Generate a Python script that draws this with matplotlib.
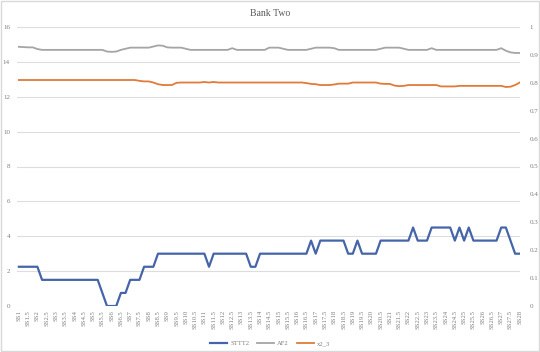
import numpy as np
import matplotlib.pyplot as plt
from matplotlib.patches import Rectangle

# Подписи оси X (каждая вторая категория)
tick_labels = ["SS1", "SS1.5", "SS2", "SS2.5", "SS3", "SS3.5", "SS4", "SS4.5", "SS5", "SS5.5",
               "SS6", "SS6.5", "SS7", "SS7.5", "SS8", "SS8.5", "SS9", "SS9.5", "SS10", "SS10.5",
               "SS11", "SS11.5", "SS12", "SS12.5", "SS13", "SS13.5", "SS14", "SS14.5", "SS15", "SS15.5",
               "SS16", "SS16.5", "SS17", "SS17.5", "SS18", "SS18.5", "SS19", "SS19.5", "SS20", "SS20.5",
               "SS21", "SS21.5", "SS22", "SS22.5", "SS23", "SS23.5", "SS24", "SS24.5", "SS25", "SS25.5",
               "SS26", "SS26.5", "SS27", "SS27.5", "SS28"]

# STTT2 (левая ось)
sttt2 = [2.25, 2.25, 2.25, 2.25, 2.25, 1.5, 1.5, 1.5, 1.5, 1.5,
         1.5, 1.5, 1.5, 1.5, 1.5, 1.5, 1.5, 1.5, 0.75, 0,
         0, 0, 0.75, 0.75, 1.5, 1.5, 1.5, 2.25, 2.25, 2.25,
         3, 3, 3, 3, 3, 3, 3, 3, 3, 3,
         3, 2.25, 3, 3, 3, 3, 3, 3, 3, 3,
         2.25, 2.25, 3, 3, 3, 3, 3, 3, 3, 3,
         3, 3, 3, 3.75, 3, 3.75, 3.75, 3.75, 3.75, 3.75,
         3.75, 3, 3, 3.75, 3, 3, 3, 3, 3.75, 3.75,
         3.75, 3.75, 3.75, 3.75, 3.75, 4.5, 3.75, 3.75, 3.75, 4.5,
         4.5, 4.5, 4.5, 4.5, 3.75, 4.5, 3.75, 4.5, 3.75, 3.75,
         3.75, 3.75, 3.75, 3.75, 4.5, 4.5, 3.75, 3, 3]

# AF2 (правая ось)
af2 = [0.929, 0.928, 0.927, 0.927, 0.921, 0.918, 0.918, 0.918, 0.918, 0.918,
       0.918, 0.918, 0.918, 0.918, 0.918, 0.918, 0.918, 0.918, 0.918, 0.912,
       0.911, 0.912, 0.918, 0.922, 0.926, 0.926, 0.926, 0.926, 0.926, 0.930,
       0.934, 0.933, 0.927, 0.926, 0.926, 0.926, 0.922, 0.918, 0.918, 0.918,
       0.918, 0.918, 0.918, 0.918, 0.918, 0.918, 0.924, 0.918, 0.918, 0.918,
       0.918, 0.918, 0.918, 0.918, 0.926, 0.926, 0.926, 0.922, 0.918, 0.918,
       0.918, 0.918, 0.918, 0.922, 0.926, 0.926, 0.926, 0.926, 0.924, 0.918,
       0.918, 0.918, 0.918, 0.918, 0.918, 0.918, 0.918, 0.918, 0.922, 0.926,
       0.926, 0.926, 0.926, 0.922, 0.918, 0.918, 0.918, 0.918, 0.918, 0.924,
       0.918, 0.918, 0.918, 0.918, 0.918, 0.918, 0.918, 0.918, 0.918, 0.918,
       0.918, 0.918, 0.918, 0.918, 0.924, 0.915, 0.909, 0.907, 0.907]

# x2_3 (правая ось)
x2_3 = [0.810, 0.810, 0.810, 0.810, 0.810, 0.810, 0.810, 0.810, 0.810, 0.810,
        0.810, 0.810, 0.810, 0.810, 0.810, 0.810, 0.810, 0.810, 0.810, 0.810,
        0.810, 0.810, 0.810, 0.810, 0.810, 0.810, 0.807, 0.805, 0.805, 0.801,
        0.795, 0.792, 0.792, 0.792, 0.800, 0.801, 0.801, 0.801, 0.801, 0.801,
        0.803, 0.801, 0.803, 0.801, 0.801, 0.801, 0.801, 0.801, 0.801, 0.801,
        0.801, 0.801, 0.801, 0.801, 0.801, 0.801, 0.801, 0.801, 0.801, 0.801,
        0.801, 0.801, 0.799, 0.796, 0.795, 0.792, 0.792, 0.792, 0.794, 0.797,
        0.797, 0.797, 0.801, 0.801, 0.801, 0.801, 0.801, 0.801, 0.797, 0.796,
        0.796, 0.790, 0.788, 0.789, 0.792, 0.792, 0.792, 0.792, 0.792, 0.792,
        0.792, 0.787, 0.787, 0.787, 0.787, 0.789, 0.789, 0.789, 0.789, 0.789,
        0.789, 0.789, 0.789, 0.789, 0.789, 0.785, 0.786, 0.792, 0.801]

x = np.arange(len(sttt2))
grey_txt = "#7f7f7f"
serif = "Liberation Serif"

fig = plt.figure(figsize=(5.4, 3.52), dpi=100)
ax = fig.add_axes([17 / 540, 46 / 352, 503 / 540, 279 / 352])
ax2 = ax.twinx()

ax.plot(x, sttt2, color="#4565A8", lw=1.6, label="STTT2")
l2, = ax2.plot(x, af2, color="#A5A5A5", lw=1.3, label="AF2")
l3, = ax2.plot(x, x2_3, color="#E07B39", lw=1.3, label="x2_3")

ax.set_xlim(-0.4, len(x) - 1 + 0.05)
ax.set_ylim(0, 16)
ax.set_yticks(np.arange(0, 17, 2))
ax2.set_ylim(0, 1)
ax2.set_yticks(np.arange(0, 1.01, 0.1))
ax2.set_yticklabels(["0", "0.1", "0.2", "0.3", "0.4", "0.5", "0.6", "0.7", "0.8", "0.9", "1"])

ax.grid(axis="y", color="#DDDDDD", lw=0.8)
ax.set_axisbelow(True)
for a in (ax, ax2):
    for s in a.spines.values():
        s.set_visible(False)
    a.tick_params(length=0, labelsize=5, labelcolor=grey_txt)
    for t in a.get_yticklabels():
        t.set_fontfamily(serif)
ax.tick_params(axis="y", pad=5)
ax2.tick_params(axis="y", pad=7)

ax.set_xticks(x[::2])
ax.set_xticklabels(tick_labels, rotation=90, fontsize=4.8, color=grey_txt, fontfamily=serif)
ax.tick_params(axis="x", pad=3)

fig.text(0.5, 0.975, "Bank Two", ha="center", va="top", fontsize=7, color="#595959", fontfamily=serif)

h1, lab1 = ax.get_legend_handles_labels()
leg = fig.legend(h1 + [l2, l3], lab1 + ["AF2", "x2_3"], loc="lower center", ncol=3,
                 bbox_to_anchor=(0.5, 0.0), frameon=False, fontsize=4.8,
                 handlelength=2.6, columnspacing=1.2, handletextpad=0.4)
for t in leg.get_texts():
    t.set_color(grey_txt)
    t.set_fontfamily(serif)

fig.patches.append(Rectangle((0.002, 0.003), 0.996, 0.994, transform=fig.transFigure,
                             fill=False, edgecolor="#D9D9D9", lw=1))

fig.savefig("out.png", dpi=100)
